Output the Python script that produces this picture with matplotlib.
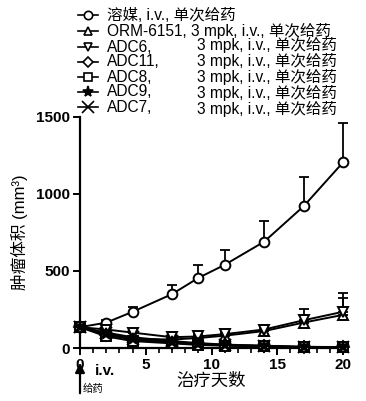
import matplotlib
matplotlib.use("Agg")
import matplotlib.pyplot as plt
from matplotlib.lines import Line2D
import numpy as np

plt.rcParams['font.family'] = ['Liberation Sans', 'Noto Sans CJK SC', 'DejaVu Sans']

days = [0, 2, 4, 7, 9, 11, 14, 17, 20]
names = ["溶媒", "ORM-6151", "ADC6", "ADC11", "ADC8", "ADC9", "ADC7"]
doses = ["i.v., 单次给药", "3 mpk, i.v., 单次给药", "3 mpk, i.v., 单次给药",
         "3 mpk, i.v., 单次给药", "3 mpk, i.v., 单次给药", "3 mpk, i.v., 单次给药",
         "3 mpk, i.v., 单次给药"]
markers = ['o', '^', 'v', 'D', 's', '*', 'x']
fills = ['none', 'none', 'none', 'none', 'none', 'full', 'full']

means = [
    [135, 165, 235, 350, 455, 540, 690, 920, 1205],
    [135, 95, 60, 55, 65, 80, 110, 165, 215],
    [135, 120, 100, 70, 75, 90, 120, 180, 235],
    [135, 85, 55, 35, 25, 18, 12, 6, 5],
    [135, 75, 45, 30, 20, 15, 10, 5, 4],
    [135, 90, 60, 40, 28, 20, 14, 7, 6],
    [135, 100, 70, 45, 32, 22, 15, 8, 6],
]
errs = [
    [10, 20, 32, 62, 85, 97, 135, 190, 255],
    [10, 15, 12, 10, 12, 15, 20, 40, 110],
    [10, 15, 15, 12, 15, 18, 30, 75, 120],
    [10, 10, 8, 5, 4, 3, 3, 2, 2],
    [10, 10, 8, 5, 4, 3, 3, 2, 2],
    [10, 10, 8, 5, 4, 3, 3, 2, 2],
    [10, 10, 8, 5, 4, 3, 3, 2, 2],
]

W, H = 366, 401
fig = plt.figure(figsize=(W/100, H/100), dpi=100)
def fx(px): return px / W
def fy(py): return 1 - py / H

ax = fig.add_axes([fx(80), fy(348), fx(343) - fx(80), fy(117) - fy(348)])

for i in range(len(names)):
    m = np.array(means[i]); e = np.array(errs[i])
    ax.errorbar(days, m, yerr=[np.zeros_like(e), e], fmt='none', ecolor='black',
                elinewidth=1.3, capsize=3.5, capthick=1.3, clip_on=False, zorder=2)
    if markers[i] in ('*', 'x'):
        ms = 9
    elif markers[i] == 'D':
        ms = 6
    else:
        ms = 7
    ax.plot(days, m, color='black', lw=1.4, marker=markers[i], ms=ms,
            mfc='white' if fills[i] == 'none' else 'black', mec='black', mew=1.4,
            clip_on=False, zorder=3)

ax.set_xlim(0, 20)
ax.set_ylim(0, 1500)
ax.spines['top'].set_visible(False)
ax.spines['right'].set_visible(False)
for s in ('left', 'bottom'):
    ax.spines[s].set_linewidth(1.6)
ax.set_xticks([0, 5, 10, 15, 20])
ax.set_xticks(range(0, 21), minor=True)
ax.set_yticks([0, 500, 1000, 1500])
ax.tick_params(axis='both', which='major', width=1.4, length=5, labelsize=11, pad=2)
ax.tick_params(axis='x', which='minor', width=1.2, length=3.5)
for lab in ax.get_xticklabels() + ax.get_yticklabels():
    lab.set_fontweight('bold')

ax.set_xlabel("治疗天数", fontsize=12.5, labelpad=0, family=['Noto Sans CJK SC', 'DejaVu Sans'])
ax.set_ylabel("肿瘤体积 (mm³)", fontsize=12, labelpad=6)

# Legend drawn manually: markers per row, text as column blocks
row_y = [15, 31, 47, 62, 77, 92, 107]
fs = 11.2
ls = 1.0
for i in range(len(names)):
    y = fy(row_y[i])
    fig.add_artist(Line2D([fx(78), fx(98)], [y, y], color='black', lw=1.2,
                          transform=fig.transFigure))
    if markers[i] in ('*', 'x'):
        ms = 8
    elif markers[i] == 'D':
        ms = 5
    else:
        ms = 6
    fig.add_artist(Line2D([fx(88)], [y], color='black', marker=markers[i], ms=ms,
                          mfc='white' if fills[i] == 'none' else 'black', mec='black', mew=1.2,
                          transform=fig.transFigure))

top_lines = "\n".join(names[i] + ", " + doses[i] for i in range(2))
name_lines = "\n".join(names[i] + "," for i in range(2, len(names)))
dose_lines = "\n".join(doses[i] for i in range(2, len(names)))
fig.text(fx(107), fy((row_y[0] + row_y[1]) / 2), top_lines, fontsize=fs, va='center',
         ha='left', linespacing=ls)
mid = (row_y[2] + row_y[-1]) / 2
fig.text(fx(107), fy(mid), name_lines, fontsize=fs, va='center', ha='left', linespacing=ls)
fig.text(fx(197), fy(mid), dose_lines, fontsize=fs, va='center', ha='left', linespacing=ls)

# Dosing arrow
ax.annotate("", xy=(fx(80), fy(360)), xytext=(fx(80), fy(396)), xycoords='figure fraction',
            textcoords='figure fraction',
            arrowprops=dict(arrowstyle='-|>', color='black', lw=1.6, mutation_scale=14))
fig.text(fx(95), fy(371), "i.v.", fontsize=11, fontweight='bold', va='center', ha='left')
fig.text(fx(83), fy(389), "给药", fontsize=7.5, va='center', ha='left',
         family=['Noto Sans CJK SC', 'DejaVu Sans'])

fig.savefig("out.png", dpi=100)
